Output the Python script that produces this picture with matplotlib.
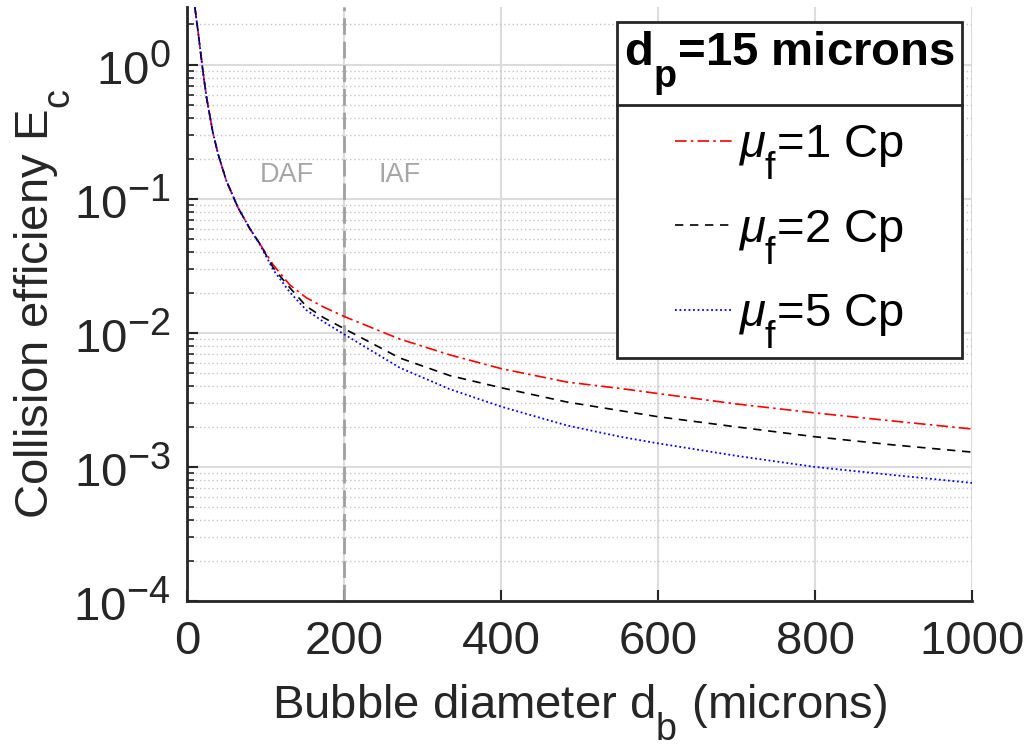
import numpy as np
import matplotlib
matplotlib.use("Agg")
import matplotlib.pyplot as plt
import matplotlib._mathtext as mtext
from matplotlib.lines import Line2D
from matplotlib.ticker import LogLocator, LogFormatterSciNotation, NullFormatter

# MATLAB-style sub/superscripts: a bit larger and dropped lower than mathtext's default
mtext.SHRINK_FACTOR = 0.8
mtext.FontConstantsBase.sub1 = 0.9

# === data ===
db = [10, 15, 20, 25, 33, 40, 50, 65, 80, 93, 110, 131, 152, 174, 201,
      271, 335, 401, 484, 552, 600, 700, 800, 900, 1000]
ec_mu1 = [2.7, 1.6, 0.92, 0.565, 0.311, 0.212, 0.137, 0.086, 0.06, 0.046, 0.0321, 0.0228, 0.0183, 0.0156, 0.0132,
          0.0090, 0.00685, 0.0054, 0.0043, 0.00385, 0.00353, 0.00295, 0.00253, 0.0022, 0.00192]
ec_mu2 = [2.7, 1.6, 0.92, 0.565, 0.311, 0.212, 0.137, 0.086, 0.06, 0.046, 0.0305, 0.0217, 0.0158, 0.0130, 0.0107,
          0.0065, 0.0048, 0.00389, 0.00305, 0.00263, 0.00237, 0.00199, 0.00168, 0.00146, 0.00129]
ec_mu5 = [2.7, 1.6, 0.92, 0.565, 0.311, 0.212, 0.137, 0.086, 0.06, 0.0455, 0.0295, 0.0201, 0.0148, 0.0121, 0.0097,
          0.0055, 0.0038, 0.00281, 0.00204, 0.00168, 0.0015, 0.00121, 0.00100, 0.00087, 0.00076]
labels = [r"$\mu_\mathrm{f}$=1 Cp", r"$\mu_\mathrm{f}$=2 Cp", r"$\mu_\mathrm{f}$=5 Cp"]
legend_title = r"d$_\mathbf{p}$=15 microns"
xticks = [0, 200, 400, 600, 800, 1000]
regime_split = 200
regimes = ["DAF", "IAF"]
regime_x = [127, 271]

plt.rcParams["font.family"] = ["Liberation Sans", "DejaVu Sans"]
plt.rcParams["mathtext.fontset"] = "custom"
plt.rcParams["mathtext.rm"] = "Liberation Sans"
plt.rcParams["mathtext.it"] = "Liberation Sans:italic"
plt.rcParams["mathtext.bf"] = "Liberation Sans:bold"
plt.rcParams["axes.unicode_minus"] = False

dark = "#262626"
fs = 34

fig = plt.figure(figsize=(10.26, 7.51), dpi=100)
ax = fig.add_axes([187 / 1026, 1 - 601 / 751, (972 - 187) / 1026, (601 - 7) / 751])

l1, = ax.plot(db, ec_mu1, color="red", lw=1.2, linestyle=(0, (7, 2.5, 1.5, 2.5)))
l2, = ax.plot(db, ec_mu2, color="black", lw=1.2, linestyle=(0, (5, 4)))
l3, = ax.plot(db, ec_mu5, color="blue", lw=1.3, linestyle=(0, (1, 1.5)))

ax.axvline(regime_split, color="#a0a0a0", lw=2, linestyle=(0, (6, 2.5)), zorder=1)
for name, xr in zip(regimes, regime_x):
    ax.text(xr, 0.15, name, color="#a6a6a6", fontsize=19.5, ha="center", va="center")

ax.set_yscale("log")
ax.set_xlim(0, 1000)
ax.set_ylim(1e-4, 2.7)
ax.set_xticks(xticks)
ax.yaxis.set_major_locator(LogLocator(base=10, numticks=10))
ax.yaxis.set_minor_locator(LogLocator(base=10, subs=np.arange(2, 10), numticks=20))
ax.yaxis.set_major_formatter(LogFormatterSciNotation())
ax.yaxis.set_minor_formatter(NullFormatter())

ax.grid(True, which="major", axis="both", color="#dcdcdc", lw=1.5, linestyle="-", zorder=0)
ax.grid(True, which="minor", axis="y", color="#c4c4c4", lw=1.0, linestyle=(0, (1, 2)), zorder=0)
ax.set_axisbelow(True)

for s in ["top", "right"]:
    ax.spines[s].set_visible(False)
for s in ["left", "bottom"]:
    ax.spines[s].set_color(dark)
    ax.spines[s].set_linewidth(2)

ax.tick_params(which="major", direction="in", length=8, width=1.5, color=dark,
               labelsize=fs, labelcolor=dark)
ax.tick_params(axis="x", pad=14)
ax.tick_params(axis="y", pad=12)
ax.tick_params(which="minor", direction="in", length=5, width=1.2, color=dark)
ax.tick_params(axis="x", which="minor", bottom=False)

ax.set_xlabel(r"Bubble diameter d$_\mathrm{b}$ (microns)", fontsize=fs, color=dark, labelpad=13)
ax.set_ylabel(r"Collision efficieny E$_\mathrm{c}$", fontsize=fs, color=dark, labelpad=0)

leg = ax.legend([l1, l2, l3], labels, title=legend_title, loc="upper right",
                bbox_to_anchor=(962 / 1026, 1 - 22 / 751), bbox_transform=fig.transFigure,
                fontsize=fs, title_fontproperties={"size": fs, "weight": "bold"},
                frameon=True, fancybox=False, framealpha=1, edgecolor=dark,
                handlelength=1.2, handletextpad=0.12, labelspacing=0.55,
                borderpad=0.15, borderaxespad=0)
leg.get_frame().set_linewidth(2)

# separator between legend title and entries
fig.canvas.draw()
r = fig.canvas.get_renderer()
fb = leg.get_frame().get_window_extent(r)
tb = leg.get_title().get_window_extent(r)
ysep = tb.y0 - 7
fig.add_artist(Line2D([fb.x0, fb.x1], [ysep, ysep], transform=None, color=dark, lw=2))

fig.savefig("out.png", dpi=100)
